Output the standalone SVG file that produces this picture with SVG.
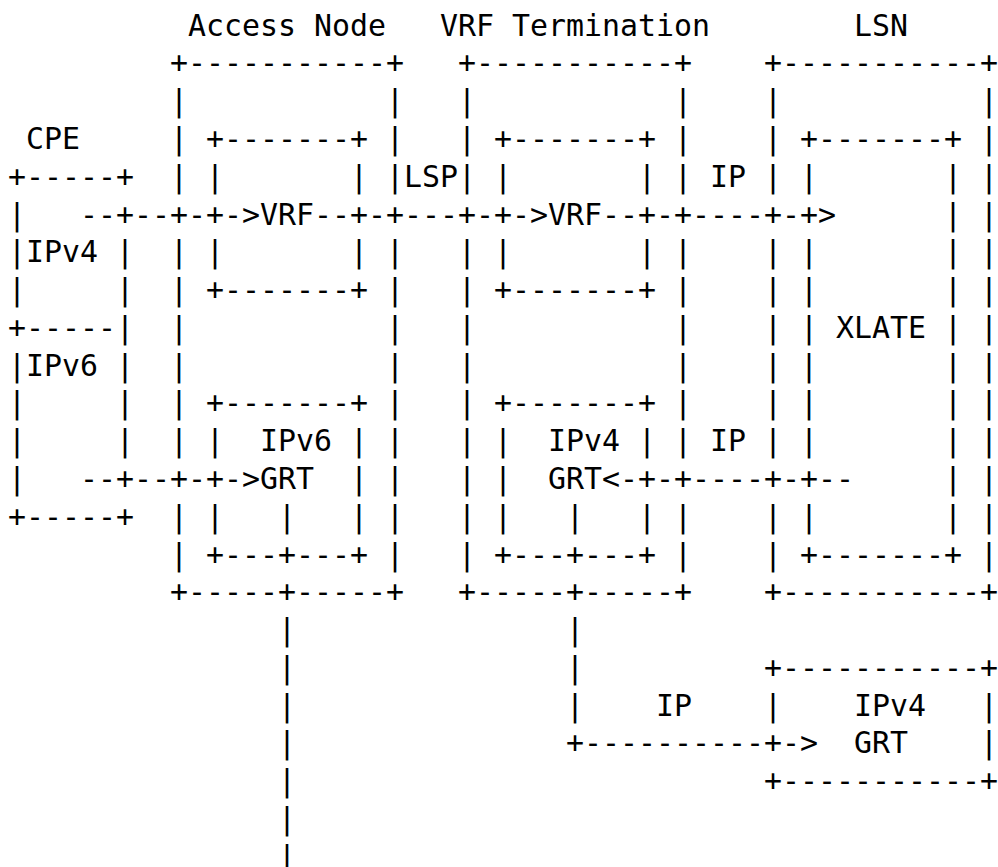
<svg xmlns="http://www.w3.org/2000/svg" width="998" height="867" viewBox="0 0 998 867">
<style>
text { font-family: "DejaVu Sans Mono", "Liberation Mono", monospace; font-size: 29.9px; fill: #000; white-space: pre; }
</style>
<rect x="0" y="0" width="998" height="867" fill="#fff"/>
<g id="cpe">
<text xml:space="preserve"><tspan x="8" y="148.9"> CPE</tspan><tspan x="8" y="186.7">+-----+</tspan><tspan x="8" y="224.5">|</tspan><tspan x="8" y="262.3">|IPv4 |</tspan><tspan x="8" y="300.1">|     |</tspan><tspan x="8" y="337.8">+-----|</tspan><tspan x="8" y="375.6">|IPv6 |</tspan><tspan x="8" y="413.4">|     |</tspan><tspan x="8" y="451.2">|     |</tspan><tspan x="8" y="489.0">|</tspan><tspan x="8" y="526.7">+-----+</tspan></text>
</g>
<g id="access-node">
<text xml:space="preserve"><tspan x="188" y="35.6">Access Node</tspan><tspan x="170" y="73.4">+-----------+</tspan><tspan x="170" y="111.2">|           |</tspan><tspan x="170" y="148.9">| +-------+ |</tspan><tspan x="170" y="186.7">| |       | |</tspan><tspan x="260" y="224.5">VRF</tspan><tspan x="170" y="262.3">| |       | |</tspan><tspan x="170" y="300.1">| +-------+ |</tspan><tspan x="170" y="337.8">|           |</tspan><tspan x="170" y="375.6">|           |</tspan><tspan x="170" y="413.4">| +-------+ |</tspan><tspan x="170" y="451.2">| |  IPv6 | |</tspan><tspan x="260" y="489.0">GRT  | |</tspan><tspan x="170" y="526.7">| |</tspan><tspan x="350" y="526.7">| |</tspan><tspan x="170" y="564.5">| +---</tspan><tspan x="296" y="564.5">---+ |</tspan><tspan x="170" y="602.3">+-----</tspan><tspan x="296" y="602.3">-----+</tspan></text>
</g>
<g id="vrf-termination">
<text xml:space="preserve"><tspan x="440" y="35.6">VRF Termination</tspan><tspan x="458" y="73.4">+-----------+</tspan><tspan x="458" y="111.2">|           |</tspan><tspan x="458" y="148.9">| +-------+ |</tspan><tspan x="458" y="186.7">| |       | |</tspan><tspan x="548" y="224.5">VRF</tspan><tspan x="458" y="262.3">| |       | |</tspan><tspan x="458" y="300.1">| +-------+ |</tspan><tspan x="458" y="337.8">|           |</tspan><tspan x="458" y="375.6">|           |</tspan><tspan x="458" y="413.4">| +-------+ |</tspan><tspan x="458" y="451.2">| |  IPv4 | |</tspan><tspan x="458" y="489.0">| |  GRT</tspan><tspan x="458" y="526.7">| |</tspan><tspan x="638" y="526.7">| |</tspan><tspan x="458" y="564.5">| +---</tspan><tspan x="584" y="564.5">---+ |</tspan><tspan x="458" y="602.3">+-----</tspan><tspan x="584" y="602.3">-----+</tspan></text>
</g>
<g id="lsn">
<text xml:space="preserve"><tspan x="854" y="35.6">LSN</tspan><tspan x="764" y="73.4">+-----------+</tspan><tspan x="764" y="111.2">|           |</tspan><tspan x="764" y="148.9">| +-------+ |</tspan><tspan x="764" y="186.7">| |       | |</tspan><tspan x="944" y="224.5">| |</tspan><tspan x="764" y="262.3">| |       | |</tspan><tspan x="764" y="300.1">| |       | |</tspan><tspan x="764" y="337.8">| | XLATE | |</tspan><tspan x="764" y="375.6">| |       | |</tspan><tspan x="764" y="413.4">| |       | |</tspan><tspan x="764" y="451.2">| |       | |</tspan><tspan x="944" y="489.0">| |</tspan><tspan x="764" y="526.7">| |       | |</tspan><tspan x="764" y="564.5">| +-------+ |</tspan><tspan x="764" y="602.3">+-----------+</tspan></text>
</g>
<g id="ipv4-grt">
<text xml:space="preserve"><tspan x="764" y="677.9">+-----------+</tspan><tspan x="764" y="715.6">|    IPv4   |</tspan><tspan x="854" y="753.4">GRT    |</tspan><tspan x="764" y="791.2">+-----------+</tspan></text>
</g>
<g id="connectors">
<text xml:space="preserve"><tspan x="404" y="186.7">LSP</tspan><tspan x="710" y="186.7">IP</tspan><tspan x="80" y="224.5">--+--+-+-&gt;</tspan><tspan x="314" y="224.5">--+-+---+-+-&gt;</tspan><tspan x="602" y="224.5">--+-+----+-+&gt;</tspan><tspan x="710" y="451.2">IP</tspan><tspan x="80" y="489.0">--+--+-+-&gt;</tspan><tspan x="602" y="489.0">&lt;-+-+----+-+--</tspan><tspan x="278" y="526.7">|</tspan><tspan x="566" y="526.7">|</tspan><tspan x="278" y="564.5">+</tspan><tspan x="566" y="564.5">+</tspan><tspan x="278" y="602.3">+</tspan><tspan x="566" y="602.3">+</tspan><tspan x="278" y="640.1">|</tspan><tspan x="566" y="640.1">|</tspan><tspan x="278" y="677.9">|</tspan><tspan x="566" y="677.9">|</tspan><tspan x="278" y="715.6">|</tspan><tspan x="566" y="715.6">|</tspan><tspan x="656" y="715.6">IP</tspan><tspan x="278" y="753.4">|</tspan><tspan x="566" y="753.4">+----------+-&gt;</tspan><tspan x="278" y="791.2">|</tspan><tspan x="278" y="829.0">|</tspan><tspan x="278" y="866.8">|</tspan></text>
</g>
</svg>
